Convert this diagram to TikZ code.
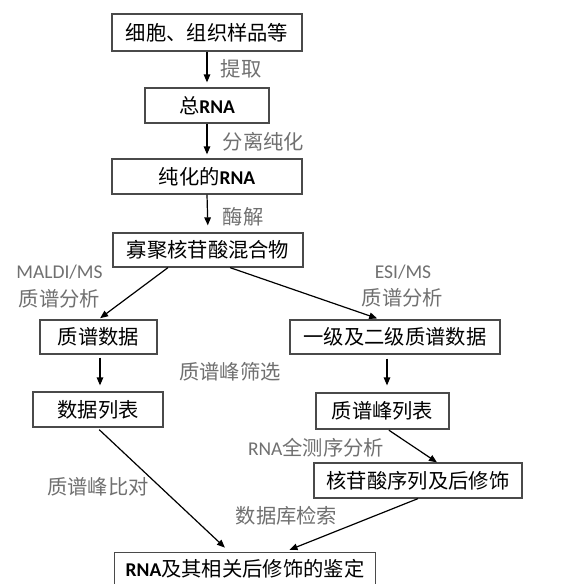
\documentclass[tikz,border=0pt]{standalone}
\usepackage{fontspec}
\setmainfont{Carlito}
\newfontfamily\cjk{Noto Sans CJK SC}
\usetikzlibrary{arrows.meta}
\definecolor{boxgray}{HTML}{4A4A4A}
\definecolor{lblgray}{HTML}{707070}
\begin{document}
\begin{tikzpicture}[x=1pt,y=-1pt,
  box/.style={draw=boxgray, line width=1.2pt, inner sep=0pt, text=black,
    font=\fontsize{20.3}{21}\selectfont\cjk},
  lbl/.style={text=lblgray, inner sep=0pt, font=\fontsize{20.3}{21}\selectfont\cjk},
  lat/.style={lbl, font=\fontsize{19.5}{21}\selectfont\rmfamily},
  arr/.style={-{Triangle[length=8pt,width=6.5pt]}, line width=1.2pt, black}]
\useasboundingbox (0,0) rectangle (576,584);
\fill[white] (0,0) rectangle (576,584);

\node[box, minimum width=190pt, minimum height=37pt] (b1) at (207,32.5) {细胞、组织样品等};
\node[box, minimum width=124pt, minimum height=35pt] (b2) at (207,105.5) {总{\rmfamily\bfseries\fontsize{19.5}{21}\selectfont RNA}};
\node[box, minimum width=190pt, minimum height=35pt] (b3) at (207,176.5) {纯化的{\rmfamily\bfseries\fontsize{19.5}{21}\selectfont RNA}};
\node[box, minimum width=190pt, minimum height=34pt] (b4) at (208,250) {寡聚核苷酸混合物};
\node[box, minimum width=117pt, minimum height=34pt] (b5) at (98.5,337) {质谱数据};
\node[box, minimum width=210pt, minimum height=34pt] (b6) at (395,337) {一级及二级质谱数据};
\node[box, minimum width=130pt, minimum height=35pt] (b7) at (98,409.5) {数据列表};
\node[box, minimum width=133pt, minimum height=36pt] (b8) at (382.5,411) {质谱峰列表};
\node[box, minimum width=208pt, minimum height=35pt] (b9) at (418,480.5) {核苷酸序列及后修饰};
\node[box, draw=none, minimum width=260pt, minimum height=31pt] (b10) at (245,568.5) {\raisebox{-3pt}{{\rmfamily\bfseries\fontsize{19.5}{21}\selectfont RNA}及其相关后修饰的鉴定}};
\draw[boxgray, line width=1.2pt] (b10.south west) -- (b10.north west) -- (b10.north east) -- (b10.south east);

\node[lbl] (l1) at (241,69) {提取};
\node[lbl] (l2) at (263.5,142) {分离纯化};
\node[lbl] (l3) at (243,216.5) {酶解};
\node[lat] (l4a) at (59.5,272) {MALDI/MS};
\node[lbl] (l4b) at (59.5,299) {质谱分析};
\node[lat] (l5a) at (403,272) {ESI/MS};
\node[lbl] (l5b) at (402.5,298) {质谱分析};
\node[lbl] (l6) at (230,372) {质谱峰筛选};
\node[lbl] (l7) at (98,487) {质谱峰比对};
\node[lbl] (l8) at (316,448) {{\rmfamily\fontsize{19.5}{21}\selectfont RNA}全测序分析};
\node[lbl] (l9) at (286.5,516) {数据库检索};

\draw[arr, shorten >=5pt] (b1.south) -- (b2.north);
\draw[arr, shorten >=4pt] (b2.south) -- (b3.north);
\draw[arr, shorten >=7pt] (b3.south) -- (b4.north);
\draw[arr, shorten >=2pt] ([xshift=-40pt]b4.south) -- (b5.north);
\draw[arr, shorten >=3pt] ([xshift=22pt]b4.south) -- ([xshift=-15pt]b6.north);
\draw[arr, shorten <=3pt, shorten >=6pt] ([xshift=1.5pt]b5.south) -- ([xshift=1.5pt]b5.south |- b7.north);
\draw[arr, shorten <=4pt, shorten >=7pt] ([xshift=-8pt]b6.south) -- ([xshift=-8pt]b6.south |- b8.north);
\draw[arr, shorten <=3pt, shorten >=7pt] ([xshift=-1pt]b7.south) -- ([xshift=-15pt]b10.north);
\draw[arr, shorten <=1pt] ([xshift=5.5pt]b8.south) -- ([xshift=19pt]b9.north);
\draw[arr, shorten >=7pt] (b9.south) -- ([xshift=38pt]b10.north);
\end{tikzpicture}
\end{document}
